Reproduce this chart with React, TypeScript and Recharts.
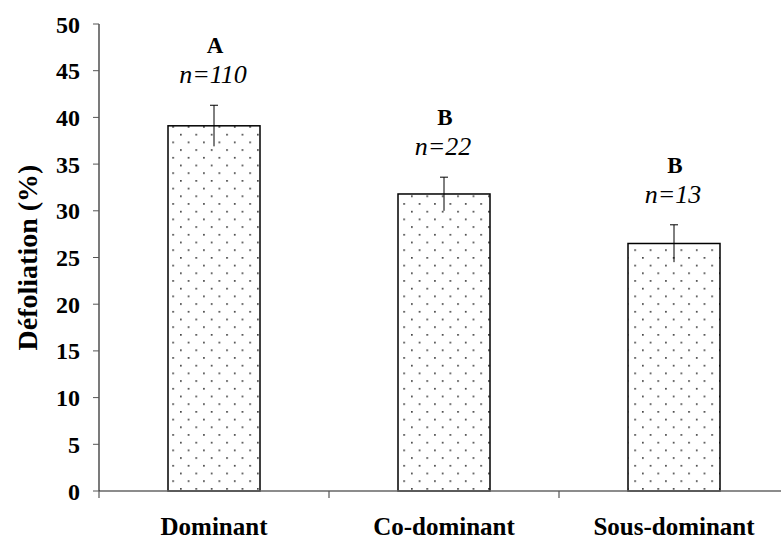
import { ComposedChart, Bar, XAxis, YAxis } from 'recharts';

const categories = ['Dominant', 'Co-dominant', 'Sous-dominant'];
const meanDefoliation = [39.1, 31.8, 26.5];
const stdError = [2.2, 1.8, 2.0];
const groupLetters = ['A', 'B', 'B'];
const sampleSizes = [110, 22, 13];
const yTicks = [0, 5, 10, 15, 20, 25, 30, 35, 40, 45, 50];

const chartData = categories.map((name, i) => ({
  name,
  mean: meanDefoliation[i],
  err: stdError[i],
  group: groupLetters[i],
  n: sampleSizes[i],
}));

const CHART_W = 789;
const Y_AXIS_W = 99;
const HALF_BAND = (CHART_W - Y_AXIS_W) / categories.length / 2;

const serif = 'Liberation Serif, Tinos, serif';

// bar with dotted fill, capped error line and the group / n annotations
const DottedBar = (props: any) => {
  const { x, y, width, height, payload } = props;
  const k = height / payload.mean;
  const errTop = y - payload.err * k;
  const errBottom = y + payload.err * k;
  const cx = x + width / 2;
  return (
    <g>
      <rect x={x} y={y} width={width} height={height} fill="url(#dots)" stroke="#000" strokeWidth={1.5} />
      <line x1={cx} x2={cx} y1={errTop} y2={errBottom} stroke="#000" strokeWidth={1} />
      <line x1={cx - 4} x2={cx + 4} y1={errTop} y2={errTop} stroke="#000" strokeWidth={1} />
      <text x={cx + 1} y={errTop - 52} textAnchor="middle" style={{ fontFamily: serif, fontWeight: 'bold', fontSize: 23 }} fill="#000">
        {payload.group}
      </text>
      <text x={cx - 1} y={errTop - 22} textAnchor="middle" style={{ fontFamily: serif, fontStyle: 'italic', fontSize: 26 }} fill="#000">
        {`n=${payload.n}`}
      </text>
    </g>
  );
};

// category label plus the boundary tick marks between categories
const CategoryTick = (props: any) => {
  const { x, y, payload, index } = props;
  const axisY = y - 28;
  return (
    <g>
      <line x1={x - HALF_BAND} x2={x - HALF_BAND} y1={axisY} y2={axisY + 7} stroke="#555" strokeWidth={1.2} />
      {index === categories.length - 1 && (
        <line x1={x + HALF_BAND} x2={x + HALF_BAND} y1={axisY} y2={axisY + 7} stroke="#555" strokeWidth={1.2} />
      )}
      <text x={x} y={y + 16} textAnchor="middle" style={{ fontFamily: serif, fontWeight: 'bold', fontSize: 25 }} fill="#000">
        {payload.value}
      </text>
    </g>
  );
};

export default function App() {
  return (
    <div style={{ position: 'absolute', left: 0, top: 0, width: 781, height: 539, overflow: 'hidden', background: '#fff' }}>
      <ComposedChart width={CHART_W} height={539} data={chartData} margin={{ top: 24, right: 0, bottom: 0, left: 0 }}>
        <defs>
          <pattern id="dots" patternUnits="userSpaceOnUse" width={15.4} height={15.4}>
            <rect width={15.4} height={15.4} fill="#fff" />
            <rect x={3} y={3} width={1.5} height={1.5} fill="#111" />
            <rect x={10.7} y={10.7} width={1.5} height={1.5} fill="#111" />
          </pattern>
        </defs>
        <XAxis
          dataKey="name"
          height={48}
          axisLine={{ stroke: '#666', strokeWidth: 1.5 }}
          tickLine={false}
          tickSize={0}
          tickMargin={28}
          tick={<CategoryTick />}
        />
        <YAxis
          width={Y_AXIS_W}
          domain={[0, 50]}
          ticks={yTicks}
          interval={0}
          axisLine={{ stroke: '#222', strokeWidth: 1.2 }}
          tickLine={{ stroke: '#555' }}
          tickSize={6}
          tickMargin={13}
          tick={{ fill: '#000', style: { fontFamily: serif, fontWeight: 'bold', fontSize: 24 } }}
          label={{
            value: 'Défoliation (%)',
            angle: -90,
            position: 'center',
            dx: -22,
            style: { fill: '#000', fontFamily: serif, fontWeight: 'bold', fontSize: 28 },
          }}
        />
        <Bar dataKey="mean" barSize={92} shape={DottedBar} isAnimationActive={false} />
      </ComposedChart>
    </div>
  );
}
